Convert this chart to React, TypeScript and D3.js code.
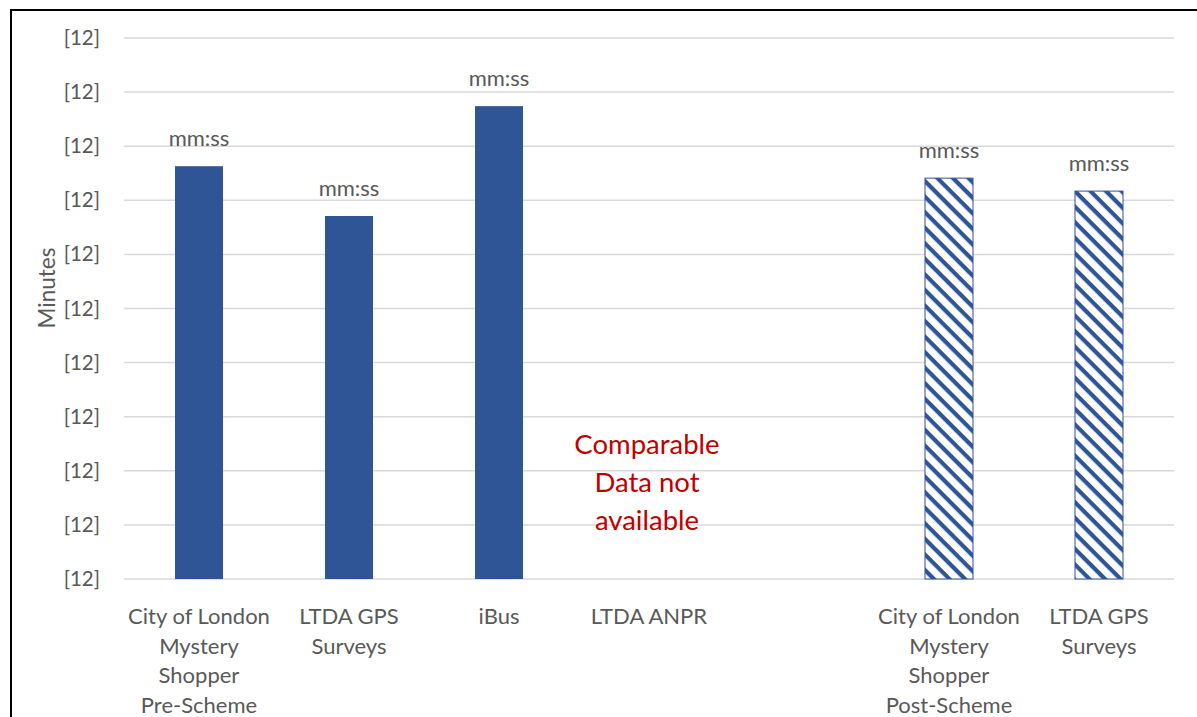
import React, { useRef, useEffect } from "react";
import * as d3 from "d3";

// chart data
const categories: string[][] = [
  ["City of London", "Mystery", "Shopper", "Pre-Scheme"],
  ["LTDA GPS", "Surveys"],
  ["iBus"],
  ["LTDA ANPR"],
  [],
  ["City of London", "Mystery", "Shopper", "Post-Scheme"],
  ["LTDA GPS", "Surveys"],
];
const values: (number | null)[] = [7.63, 6.71, 8.74, null, null, 7.41, 7.17];
const hatched: boolean[] = [false, false, false, false, false, true, true];
const valueLabels: string[] = ["mm:ss", "mm:ss", "mm:ss", "", "", "mm:ss", "mm:ss"];
const yTicks: number[] = [0, 1, 2, 3, 4, 5, 6, 7, 8, 9, 10];
const yTickLabel = "[12]";
const noDataText: string[] = ["Comparable", "Data not", "available"];
const noDataIndex = 3;

const App: React.FC = () => {
  const svgRef = useRef<SVGSVGElement | null>(null);

  const width = 1197;
  const height = 717;
  const font = "Lato, 'Open Sans', sans-serif";
  const blue = "#2F5597";
  const textGray = "#595959";

  useEffect(() => {
    if (!svgRef.current) return;
    const svg = d3.select(svgRef.current);
    svg.selectAll("*").remove();

    const xScale = d3
      .scaleBand<number>()
      .domain(categories.map((_, i) => i))
      .range([124, 1174])
      .paddingInner(0.68)
      .paddingOuter(0.34);
    const yScale = d3.scaleLinear().domain([0, 10]).range([579, 38]);

    // hatch pattern
    const defs = svg.append("defs");
    const pat = defs
      .append("pattern")
      .attr("id", "hatch")
      .attr("patternUnits", "userSpaceOnUse")
      .attr("width", 11)
      .attr("height", 11)
      .attr("patternTransform", "rotate(45)");
    pat.append("rect").attr("width", 11).attr("height", 11).attr("fill", "#fff");
    pat.append("rect").attr("x", 0).attr("y", 0).attr("width", 11).attr("height", 4.2).attr("fill", blue);

    // outer border
    svg.append("rect")
      .attr("x", 11)
      .attr("y", 10)
      .attr("width", 1300)
      .attr("height", 800)
      .attr("fill", "#fff")
      .attr("stroke", "#000")
      .attr("stroke-width", 2);

    // grid lines
    svg.selectAll(".y-grid").data(yTicks).enter().append("line")
      .attr("class", "y-grid")
      .attr("x1", 124)
      .attr("x2", 1174)
      .attr("y1", (d) => yScale(d))
      .attr("y2", (d) => yScale(d))
      .attr("stroke", "#d9d9d9")
      .attr("stroke-width", 1.5);

    // y tick labels
    svg.selectAll(".y-label").data(yTicks).enter().append("text")
      .attr("x", 100)
      .attr("y", (d) => yScale(d) + 7)
      .attr("text-anchor", "end")
      .attr("font-family", font)
      .attr("font-size", 20.5)
      .attr("fill", textGray)
      .text(yTickLabel);

    // y title
    svg.append("text")
      .attr("transform", `translate(55,288) rotate(-90)`)
      .attr("text-anchor", "middle")
      .attr("font-family", font)
      .attr("font-size", 22.5)
      .attr("fill", textGray)
      .text("Minutes");

    // bars
    values.forEach((v, i) => {
      if (v === null) return;
      const x = xScale(i)!;
      const w = xScale.bandwidth();
      svg.append("rect")
        .attr("x", x)
        .attr("y", yScale(v))
        .attr("width", w)
        .attr("height", yScale(0) - yScale(v))
        .attr("fill", hatched[i] ? "url(#hatch)" : blue)
        .attr("stroke", hatched[i] ? blue : "none")
        .attr("stroke-width", 1);
      svg.append("text")
        .attr("x", x + w / 2)
        .attr("y", yScale(v) - 20)
        .attr("text-anchor", "middle")
        .attr("font-family", font)
        .attr("font-size", 22)
        .attr("fill", textGray)
        .text(valueLabels[i]);
    });

    // category labels
    categories.forEach((lines, i) => {
      const cx = xScale(i)! + xScale.bandwidth() / 2;
      lines.forEach((line, j) => {
        svg.append("text")
          .attr("x", cx)
          .attr("y", 624 + j * 29.7)
          .attr("text-anchor", "middle")
          .attr("font-family", font)
          .attr("font-size", 22)
          .attr("fill", textGray)
          .text(line);
      });
    });

    // no data note
    const nx = xScale(noDataIndex)! + xScale.bandwidth() / 2 - 2;
    noDataText.forEach((line, j) => {
      svg.append("text")
        .attr("x", nx)
        .attr("y", 454 + j * 38)
        .attr("text-anchor", "middle")
        .attr("font-family", font)
        .attr("font-size", 27.5)
        .attr("fill", "#C00000")
        .text(line);
    });
  }, []);

  return (
    <svg
      ref={svgRef}
      width={width}
      height={height}
      style={{ position: "absolute", left: 0, top: 0, display: "block", background: "#fff" }}
    />
  );
};

export default App;
